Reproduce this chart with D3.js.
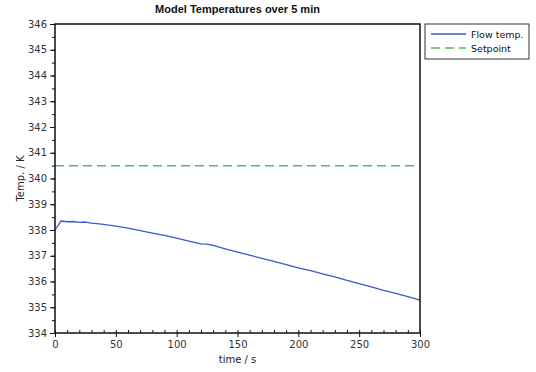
<!DOCTYPE html>
<html>
<head>
<meta charset="utf-8">
<script src="https://cdn.jsdelivr.net/npm/d3@7"></script>
<style>
  body { margin: 0; background: #fff; }
  svg { display: block; font-family: "Liberation Sans", "DejaVu Sans", sans-serif; }
</style>
</head>
<body>
<svg id="chart"></svg>
<script>
// 数据
const timeS = [0, 5, 10, 15, 20, 25, 30, 40, 50, 60, 70, 80, 90, 100, 110, 120, 125, 130,
  140, 150, 160, 170, 180, 190, 200, 210, 220, 230, 240, 250, 260, 270, 280, 290, 300];
const flowTemp = [338.0, 338.35, 338.32, 338.33, 338.3, 338.31, 338.27, 338.22, 338.15, 338.07,
  337.98, 337.88, 337.79, 337.68, 337.57, 337.46, 337.45, 337.40, 337.27, 337.14, 337.02,
  336.90, 336.78, 336.66, 336.53, 336.42, 336.30, 336.18, 336.04, 335.92, 335.79, 335.66,
  335.54, 335.41, 335.28];
const setpoint = 340.5;
const seriesNames = ["Flow temp.", "Setpoint"];
const xTicks = [0, 50, 100, 150, 200, 250, 300];
const yTicks = [334, 335, 336, 337, 338, 339, 340, 341, 342, 343, 344, 345, 346];

const width = 536;
const height = 372;
const marginTop = 24;
const marginRight = 116;
const marginBottom = 39;
const marginLeft = 55;

const svg = d3.select("#chart")
    .attr("width", width)
    .attr("height", height)
    .attr("viewBox", [0, 0, width, height]);

const x = d3.scaleLinear()
    .domain([0, 300])
    .range([marginLeft, width - marginRight]);

const y = d3.scaleLinear()
    .domain([334, 346])
    .range([height - marginBottom, marginTop]);

// 标题
svg.append("text")
    .attr("x", (marginLeft + width - marginRight) / 2)
    .attr("y", 13)
    .attr("text-anchor", "middle")
    .attr("font-weight", "bold")
    .attr("font-size", "11px")
    .attr("fill", "#111")
    .text("Model Temperatures over 5 min");

// x轴 次刻度（向内）
svg.append("g")
    .attr("transform", `translate(0,${height - marginBottom})`)
    .call(d3.axisTop(x).tickValues(d3.range(0, 301, 10)).tickSize(3).tickFormat(""))
    .call(g => g.select(".domain").remove())
    .call(g => g.selectAll(".tick line").attr("stroke", "#111"));

// x轴 主刻度
svg.append("g")
    .attr("transform", `translate(0,${height - marginBottom})`)
    .call(d3.axisBottom(x).tickValues(xTicks).tickSize(4).tickPadding(4).tickSizeOuter(0))
    .call(g => g.select(".domain").remove())
    .call(g => g.selectAll(".tick line").attr("stroke", "#111"))
    .call(g => g.selectAll("text").attr("font-size", "10px").attr("fill", "#333")
        .attr("font-family", "'DejaVu Sans', sans-serif"));

// y轴 次刻度
svg.append("g")
    .attr("transform", `translate(${marginLeft},0)`)
    .call(d3.axisLeft(y).tickValues(d3.range(334, 346.01, 0.5)).tickSize(3).tickFormat(""))
    .call(g => g.select(".domain").remove())
    .call(g => g.selectAll(".tick line").attr("stroke", "#111"));

// y轴 主刻度
svg.append("g")
    .attr("transform", `translate(${marginLeft},0)`)
    .call(d3.axisLeft(y).tickValues(yTicks).tickSize(5).tickPadding(3))
    .call(g => g.select(".domain").remove())
    .call(g => g.selectAll(".tick line").attr("stroke", "#111"))
    .call(g => g.selectAll("text").attr("font-size", "10px").attr("fill", "#333")
        .attr("font-family", "'DejaVu Sans', sans-serif"));

// 设定值虚线
svg.append("line")
    .attr("x1", x(0))
    .attr("x2", x(300))
    .attr("y1", y(setpoint))
    .attr("y2", y(setpoint))
    .attr("stroke", "#55b862")
    .attr("stroke-width", 1.5)
    .attr("stroke-dasharray", "9,5");

// 流温折线
const line = d3.line()
    .x((d, i) => x(timeS[i]))
    .y(d => y(d));

svg.append("path")
    .datum(flowTemp)
    .attr("fill", "none")
    .attr("stroke", "#3b5bc4")
    .attr("stroke-width", 1.3)
    .attr("stroke-linejoin", "round")
    .attr("d", line);

// 外框
svg.append("rect")
    .attr("x", marginLeft)
    .attr("y", marginTop)
    .attr("width", width - marginRight - marginLeft)
    .attr("height", height - marginBottom - marginTop)
    .attr("fill", "none")
    .attr("stroke", "#111")
    .attr("stroke-width", 1.5);

// x轴标题
svg.append("text")
    .attr("x", (marginLeft + width - marginRight) / 2)
    .attr("y", 363)
    .attr("text-anchor", "middle")
    .attr("font-size", "10px")
    .attr("fill", "#222")
    .attr("font-family", "'DejaVu Sans', sans-serif")
    .text("time / s");

// y轴标题
svg.append("text")
    .attr("transform", `translate(24,${(marginTop + height - marginBottom) / 2}) rotate(-90)`)
    .attr("text-anchor", "middle")
    .attr("font-size", "10px")
    .attr("fill", "#222")
    .attr("font-family", "'DejaVu Sans', sans-serif")
    .text("Temp. / K");

// 图例
const legendX = 425;
const legendY = 24;
svg.append("rect")
    .attr("x", legendX)
    .attr("y", legendY)
    .attr("width", 104)
    .attr("height", 35)
    .attr("fill", "#fff")
    .attr("stroke", "#333")
    .attr("stroke-width", 1);

const legendColors = ["#3b5bc4", "#55b862"];
const legendDash = [null, "9,5"];
seriesNames.forEach((name, i) => {
    const ly = legendY + 10 + i * 14;
    svg.append("line")
        .attr("x1", legendX + 6)
        .attr("x2", legendX + 41)
        .attr("y1", ly)
        .attr("y2", ly)
        .attr("stroke", legendColors[i])
        .attr("stroke-width", 1.3)
        .attr("stroke-dasharray", legendDash[i]);
    svg.append("text")
        .attr("x", legendX + 46)
        .attr("y", ly + 3.5)
        .attr("font-size", "9.5px")
        .attr("fill", "#111")
        .attr("font-family", "'DejaVu Sans', sans-serif")
        .text(name);
});
</script>
</body>
</html>
